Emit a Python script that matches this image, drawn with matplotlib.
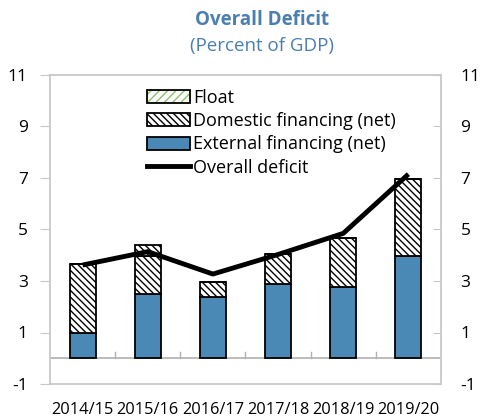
import matplotlib
matplotlib.use("Agg")
import matplotlib.pyplot as plt
from matplotlib.patches import Patch
from matplotlib.lines import Line2D
from matplotlib.legend_handler import HandlerTuple
import numpy as np

plt.rcParams['font.family'] = ['Open Sans', 'DejaVu Sans']
plt.rcParams['hatch.linewidth'] = 1.0

years = ["2014/15", "2015/16", "2016/17", "2017/18", "2018/19", "2019/20"]
external = [1.0, 2.48, 2.39, 2.88, 2.76, 3.96]
domestic = [2.66, 1.50, 0.58, 1.15, 1.90, 3.02]
domestic_extra = [0.0, 0.42, 0.0, 0.0, 0.0, 0.0]
float_ = [0.0, 0.0, 0.0, 0.0, 0.0, 0.0]
deficit = [3.62, 4.14, 3.27, 4.03, 4.85, 7.15]
yticks = [-1, 1, 3, 5, 7, 9, 11]

blue = "#4A89B5"
title_col = "#4A7FB0"
grid_col = "#c8c8c8"
dhatch = "\\" * 5

fig = plt.figure(figsize=(4.8, 4.2), dpi=100)
ax = fig.add_axes([50/480, 1-384/420, 391/480, 309/420])
x = np.arange(len(years))
w = 0.4
ext = np.array(external)
dom = np.array(domestic)
dex = np.array(domestic_extra)
flt = np.array(float_)

ax.bar(x, ext, w, color=blue, edgecolor="black", linewidth=1.3, zorder=2)
ax.bar(x, dom, w, bottom=ext, color="white", edgecolor="black", hatch=dhatch,
       linewidth=1.3, zorder=2)
ax.bar(x, dex, w, bottom=ext + dom, color="white", edgecolor="black", hatch=dhatch,
       linewidth=1.3, zorder=2)
ax.bar(x, flt, w, bottom=ext + dom + dex, color="white", edgecolor="#8fc070",
       hatch="////", linewidth=0, zorder=2)
ax.plot(x, deficit, color="black", linewidth=3.5, zorder=3, solid_capstyle="butt")

ax.set_xlim(-0.5, 5.5)
ax.set_ylim(-1, 11)
ax.axhline(0, color="#b0b0b0", linewidth=1.2, zorder=1)
for b in np.arange(0.5, 5.0, 1.0):
    ax.plot([b, b], [0, 0.25], color="#b0b0b0", linewidth=1.0, zorder=1)

for s in ax.spines.values():
    s.set_color(grid_col)
    s.set_linewidth(1.3)

ax.set_yticks(yticks)
ax.set_yticklabels([str(t) for t in yticks])
ax.tick_params(axis="y", direction="out", length=7, color=grid_col,
               labelsize=12.5, pad=9)
ax.tick_params(axis="x", length=0, labelsize=11.8, pad=13)
ax.set_xticks(x)
ax.set_xticklabels(years)

ax2 = ax.twinx()
ax2.set_ylim(-1, 11)
ax2.set_yticks(yticks)
ax2.set_yticklabels([str(t) for t in yticks])
ax2.tick_params(axis="y", direction="in", length=6, color=grid_col,
                labelsize=12.5, pad=14)
for s in ax2.spines.values():
    s.set_visible(False)

float_bg = Patch(facecolor="white", edgecolor="#8fc070", hatch="////", linewidth=0)
float_border = Patch(facecolor="none", edgecolor="black", linewidth=1.3)
handles = [
    (float_bg, float_border),
    Patch(facecolor="white", edgecolor="black", hatch=dhatch, linewidth=1.3),
    Patch(facecolor=blue, edgecolor="black", linewidth=1.3),
    Line2D([0], [0], color="black", linewidth=3.5),
]
labels = ["Float", "Domestic financing (net)", "External financing (net)", "Overall deficit"]
ax.legend(handles, labels, loc="upper left", bbox_to_anchor=(0.248, 0.956),
          frameon=False, fontsize=13, handlelength=2.4, handleheight=0.75,
          handletextpad=0.15, labelspacing=0.3, borderaxespad=0, borderpad=0,
          handler_map={tuple: HandlerTuple(ndivide=1, pad=0)})

fig.text(262/480, 1-20/420, "Overall Deficit", ha="center", va="center",
         fontsize=13.5, fontweight="bold", color=title_col)
fig.text(262/480, 1-46/420, "(Percent of GDP)", ha="center", va="center",
         fontsize=13.5, color=title_col)

fig.savefig("out.png", dpi=100)
